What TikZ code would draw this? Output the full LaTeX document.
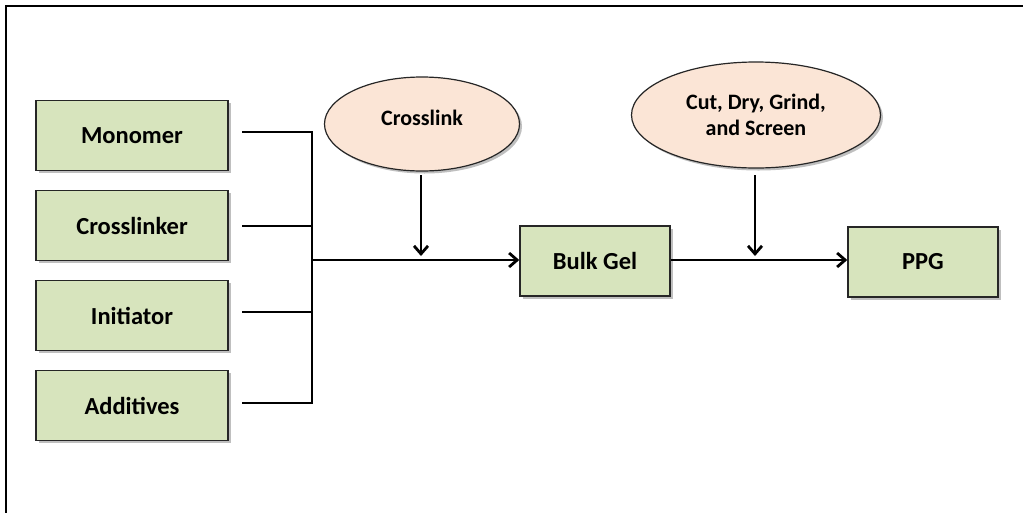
\documentclass[tikz,border=0pt]{standalone}
\usepackage{fontspec}
\setmainfont{Carlito}
\usetikzlibrary{shapes.geometric,arrows.meta,shadows}
\definecolor{boxgreen}{HTML}{D7E4BD}
\definecolor{ellpeach}{HTML}{FBE5D6}
\definecolor{edgegray}{HTML}{262626}
\tikzset{
  sh/.style={drop shadow={shadow xshift=2.5pt,shadow yshift=-2.5pt,fill=black,opacity=0.25}},
  gbox/.style={draw=edgegray,line width=1.5pt,fill=boxgreen,minimum width=192pt,minimum height=70pt,inner sep=0pt,font=\fontsize{24.5}{28}\selectfont\bfseries,sh},
  gbox2/.style={gbox,minimum width=150pt},
  ell/.style={ellipse,draw=edgegray,line width=1.2pt,fill=ellpeach,inner sep=0pt,font=\fontsize{22}{26}\selectfont\bfseries,align=center,sh},
  conn/.style={line width=2.8pt,draw=black},
  arr/.style={conn,-{Straight Barb[length=8pt,width=14pt,line width=2.8pt]}}
}
\begin{document}
\begin{tikzpicture}[x=1pt,y=-1pt]
\useasboundingbox (0,0) rectangle (1023,512);
\fill[white] (0,0) rectangle (1023,512);
\draw[line width=1.5pt] (6,520) -- (6,6) -- (1030,6);
\node[gbox] (mono) at (132,135.5) {Monomer};
\node[gbox] (xl) at (132,225.5) {Crosslinker};
\node[gbox] (init) at (132,315.5) {Initiator};
\node[gbox] (add) at (132,405.5) {Additives};
\node[gbox2] (bulk) at (595,261) {Bulk Gel};
\node[gbox2] (ppg) at (923,262) {PPG};
\node[ell,minimum width=195pt,minimum height=94pt,label={[font=\fontsize{22}{26}\selectfont\bfseries,yshift=6pt]center:Crosslink}] (cl) at (422,124) {};
\node[ell,minimum width=249pt,minimum height=106pt] (cut) at (756,115) {Cut, Dry, Grind,\\and Screen};
\coordinate (j) at (312,260);
\coordinate (j1) at (421,260);
\coordinate (j2) at (755,260);
\draw[conn] (242,132) -- (312,132) -- (312,403) -- (242,403);
\draw[conn] (242,226) -- (312,226);
\draw[conn] (242,312) -- (312,312);
\draw[arr] (j) -- (j -| bulk.west);
\draw[arr] (j -| bulk.east) -- (j -| ppg.west);
\draw[arr] (421,175) -- ([yshift=4pt]j1);
\draw[arr] (755,175) -- ([yshift=4pt]j2);
\end{tikzpicture}
\end{document}
